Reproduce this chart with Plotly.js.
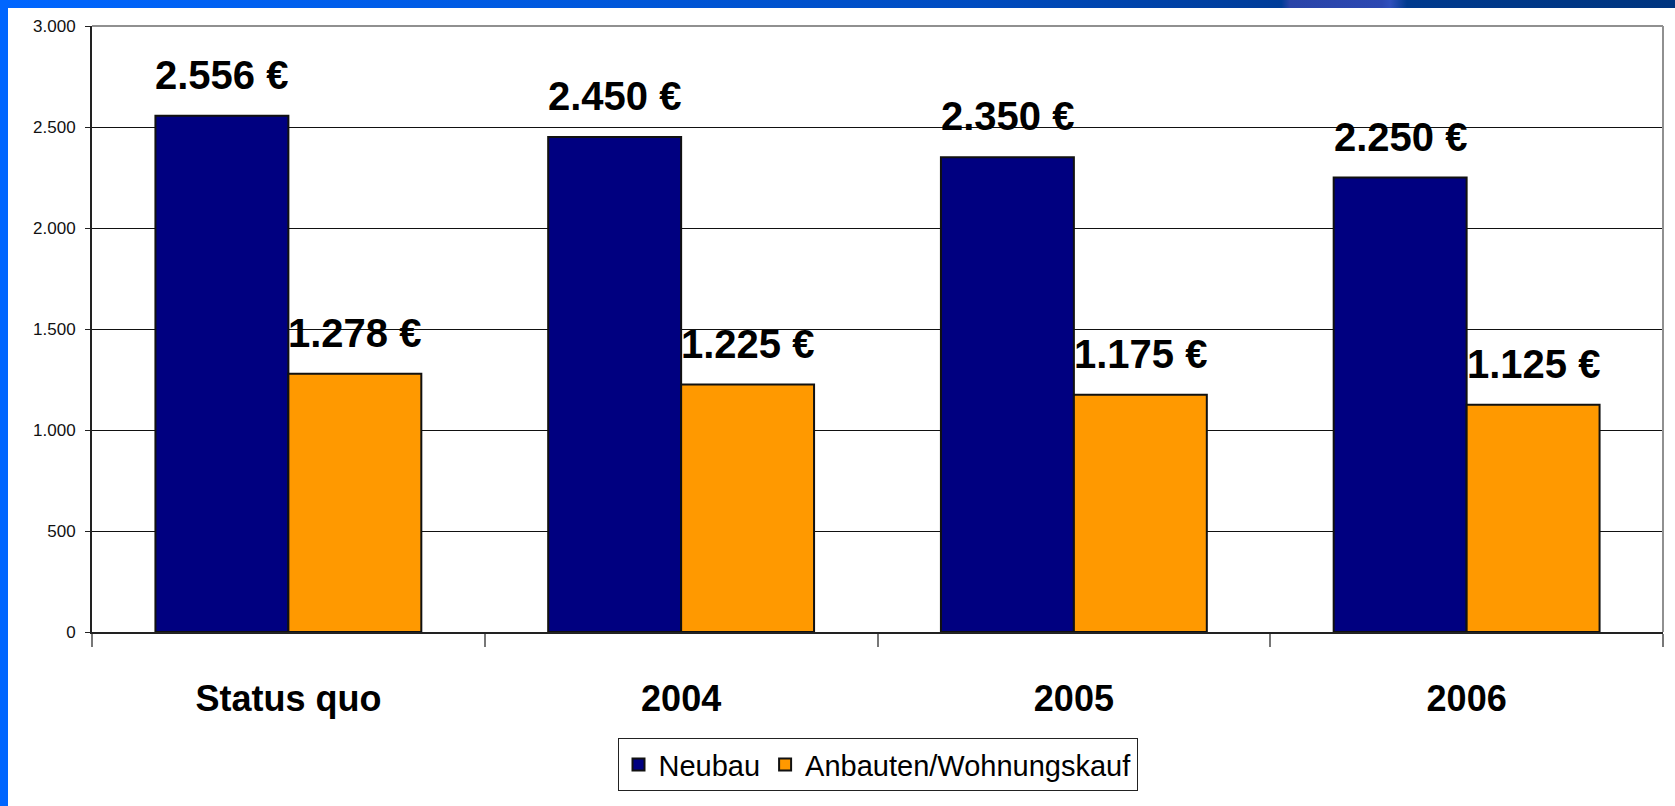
<!DOCTYPE html>
<html>
<head>
<meta charset="utf-8">
<script src="https://cdn.plot.ly/plotly-3.0.1.min.js"></script>
<style>
  html, body { margin: 0; padding: 0; background: #fff; }
  #wrap { position: relative; width: 1675px; height: 806px; overflow: hidden; background: #fff; }
  #chart { position: absolute; left: 0; top: 0; width: 1675px; height: 806px; }
  #topbar { position: absolute; left: 0; top: 0; width: 1675px; height: 8px; z-index: 5;
    background: linear-gradient(90deg, #0066ff 0%, #0058dc 35%, #004cc0 58%, #003c98 76.5%,
      #2a44a8 77%, #2c48b2 82.5%, #3050bc 83%, #003a8e 84%, #00357f 100%); }
  #leftbar { position: absolute; left: 0; top: 0; width: 8px; height: 806px; z-index: 6; background: #0066ff; }
</style>
</head>
<body>
<div id="wrap">
  <div id="chart"></div>
  <div id="topbar"></div>
  <div id="leftbar"></div>
</div>
<script>
const categories = ['Status quo', '2004', '2005', '2006'];
const neubau = [2556, 2450, 2350, 2250];
const anbauten = [1278, 1225, 1175, 1125];
const seriesNames = ['Neubau', 'Anbauten/Wohnungskauf'];
const seriesColors = ['#000080', '#ff9900'];

function fmtEuro(v) {
  return String(v).replace(/\B(?=(\d{3})+(?!\d))/g, '.') + ' €';
}

const bold = '"Liberation Sans", Arial, sans-serif';
const regular = '"Liberation Sans", Arial, sans-serif';

const traces = [neubau, anbauten].map((vals, i) => ({
  type: 'bar',
  name: seriesNames[i],
  x: categories,
  y: vals,
  marker: { color: seriesColors[i], line: { color: '#111', width: 2 } },
  hoverinfo: 'skip'
}));

const plotW = 1675 - 92 - 12;
const bargap = 0.323;
const barW = plotW / categories.length * (1 - bargap) / 2;

const annotations = [];
[neubau, anbauten].forEach((vals, i) => {
  vals.forEach((v, j) => {
    annotations.push({
      x: j, y: v, xref: 'x', yref: 'y',
      text: fmtEuro(v), showarrow: false,
      xanchor: 'center', yanchor: 'bottom',
      xshift: (i === 0 ? -1 : 1) * barW / 2,
      yshift: 17,
      font: { family: bold, size: 40, color: '#000', weight: 'bold' }
    });
  });
});

const layout = {
  width: 1675, height: 806,
  margin: { l: 92, r: 12, t: 26, b: 174 },
  paper_bgcolor: '#fff', plot_bgcolor: '#fff',
  separators: ',.',
  barmode: 'group', bargap: bargap, bargroupgap: 0,
  showlegend: true,
  xaxis: {
    type: 'category', tickson: 'boundaries',
    range: [-0.5, categories.length - 0.5],
    ticks: 'outside', ticklen: 13, tickwidth: 2, tickcolor: '#777',
    showline: true, linecolor: '#222', linewidth: 2,
    showgrid: false, zeroline: false,
    ticklabelstandoff: 34,
    tickangle: 0,
    tickfont: { family: bold, size: 36, color: '#000', weight: 'bold' }
  },
  yaxis: {
    range: [0, 3000], tick0: 0, dtick: 500, tickformat: ',d',
    ticks: 'outside', ticklen: 5, tickwidth: 1, tickcolor: '#222',
    showline: true, linecolor: '#222', linewidth: 2,
    showgrid: true, gridcolor: '#111', gridwidth: 1,
    zeroline: false, ticklabelstandoff: 6,
    tickfont: { family: regular, size: 17, color: '#111' }
  },
  legend: {
    orientation: 'h', x: 0.5, xanchor: 'center', y: -0.175, yanchor: 'top',
    bgcolor: '#fff', bordercolor: '#222', borderwidth: 1,
    font: { family: regular, size: 29, color: '#000' },
    traceorder: 'normal'
  },
  shapes: [
    { type: 'line', xref: 'paper', yref: 'paper', x0: 0, x1: 1, y0: 1, y1: 1, line: { color: '#909090', width: 2 } },
    { type: 'line', xref: 'paper', yref: 'paper', x0: 1, x1: 1, y0: 0, y1: 1, line: { color: '#909090', width: 2 } }
  ],
  annotations: annotations
};

Plotly.newPlot('chart', traces, layout, { staticPlot: true, displayModeBar: false });
</script>
</body>
</html>
